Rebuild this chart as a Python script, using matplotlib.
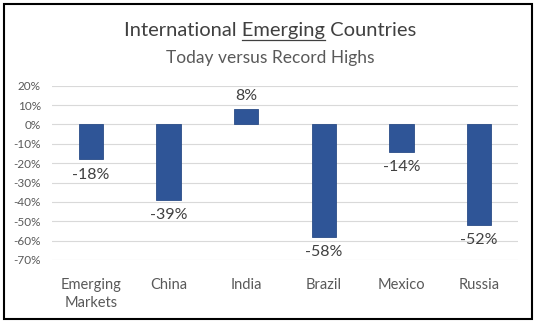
import matplotlib.pyplot as plt
from matplotlib.patches import Rectangle
from matplotlib.lines import Line2D

categories = ["Emerging\nMarkets", "China", "India", "Brazil", "Mexico", "Russia"]
values = [-18, -39, 8, -58, -14, -52]
yticks = [20, 10, 0, -10, -20, -30, -40, -50, -60, -70]

plt.rcParams['font.family'] = ['Lato', 'DejaVu Sans']

fig = plt.figure(figsize=(5.4, 3.26), dpi=100)
W, H = 540, 326

# outer frame
fig.patches.append(Rectangle((4 / W, 1 - 319 / H), 528 / W, 315 / H, transform=fig.transFigure,
                             fill=False, edgecolor='black', linewidth=1.5))

ax = fig.add_axes([52 / W, 1 - 260 / H, (518 - 52) / W, (260 - 85.7) / H])
x = list(range(len(categories)))
ax.bar(x, values, width=0.31, color='#2F5597', edgecolor='#2A4C88', linewidth=0.6, zorder=3)

ax.set_ylim(-70, 20)
ax.set_xlim(-0.5, len(categories) - 0.5)
ax.set_yticks(yticks)
ax.set_yticklabels([f"{t}%" for t in yticks])
ax.grid(axis='y', color='#D9D9D9', linewidth=0.8, zorder=0)
for s in ax.spines.values():
    s.set_visible(False)
ax.tick_params(axis='y', length=0, labelsize=8.5, labelcolor='#595959', pad=8)
ax.tick_params(axis='x', length=0, labelsize=10.5, labelcolor='#595959', pad=13)
ax.set_xticks(x)
ax.set_xticklabels(categories, linespacing=1.35)

for xi, v in zip(x, values):
    if v >= 0:
        ax.annotate(f"{v}%", (xi, v), xytext=(0, 4), textcoords='offset points',
                    ha='center', va='bottom', fontsize=11.5, color='#404040')
    else:
        ax.annotate(f"{v}%", (xi, v), xytext=(0, -6), textcoords='offset points',
                    ha='center', va='top', fontsize=11.5, color='#404040')

# title with underlined word
tsize = 14.5
ty = 1 - 36 / H
title = fig.text(0.5, ty, "International Emerging Countries", ha='center', va='baseline',
                 fontsize=tsize, color='#404040')
fig.text(0.5, 1 - 63 / H, "Today versus Record Highs", ha='center', va='baseline',
         fontsize=12.5, color='#595959')

fig.canvas.draw()
r = fig.canvas.get_renderer()
bb = title.get_window_extent(r)
pre = fig.text(0, 0, "International ", fontsize=tsize)
word = fig.text(0, 0, "Emerging", fontsize=tsize)
w1 = pre.get_window_extent(r).width
w2 = word.get_window_extent(r).width
pre.remove()
word.remove()
x0 = (bb.x0 + w1) / W
x1 = (bb.x0 + w1 + w2) / W
uy = ty - 4 / H
fig.lines.append(Line2D([x0, x1], [uy, uy], transform=fig.transFigure, color='#404040', linewidth=0.9))

fig.savefig("out.png", dpi=100)
